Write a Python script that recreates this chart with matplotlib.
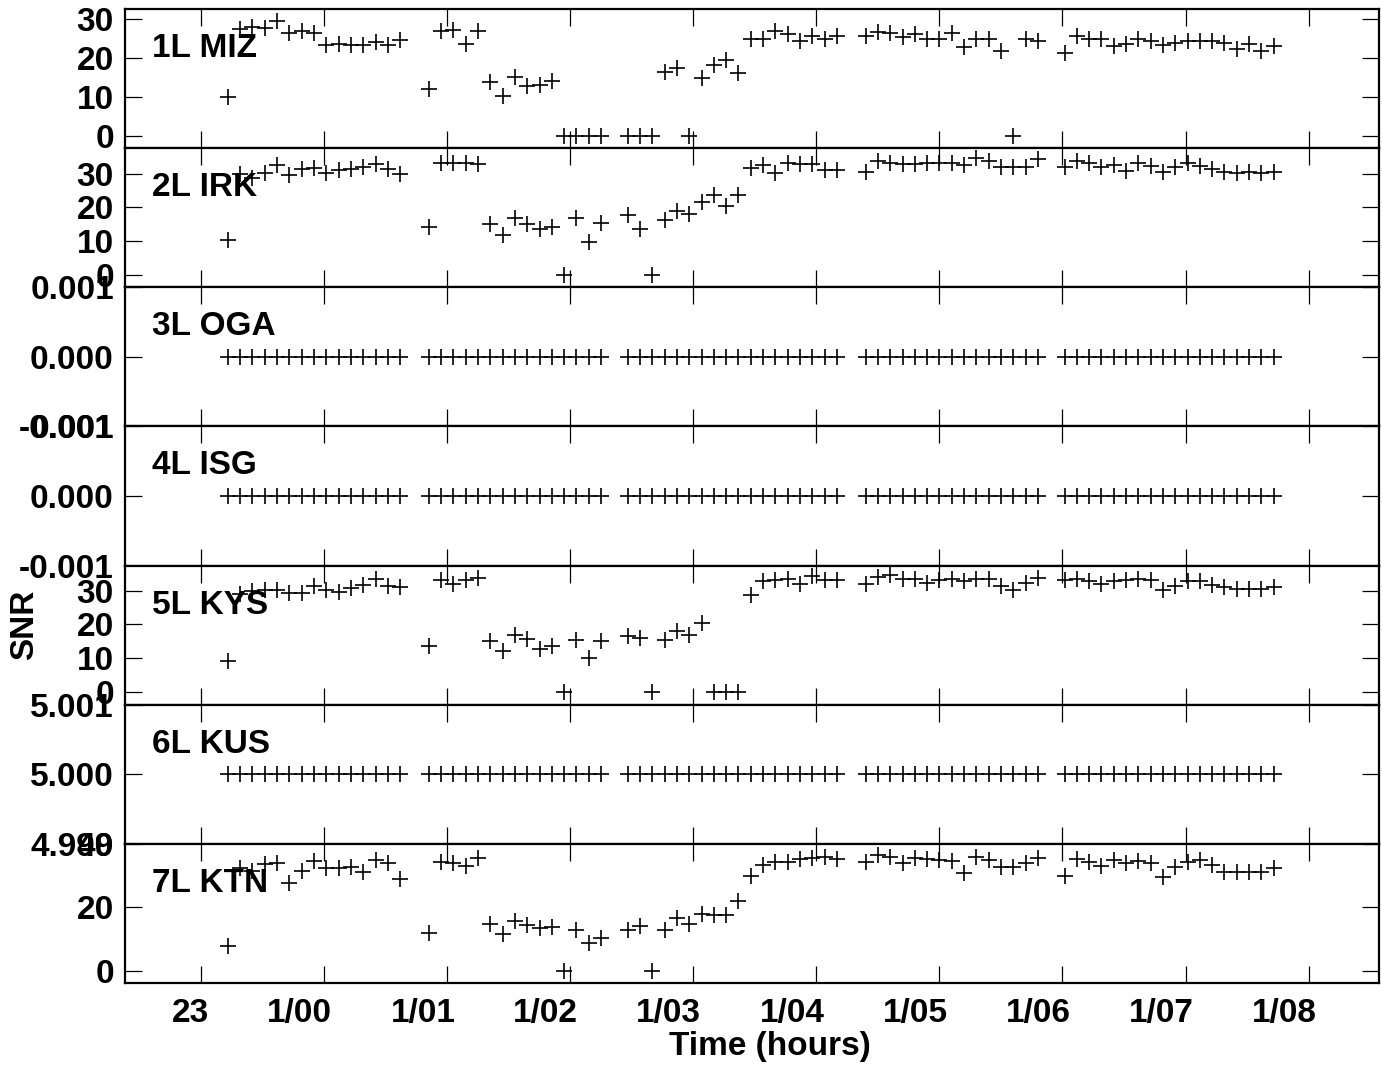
import matplotlib
matplotlib.use('Agg')
from matplotlib import pyplot as plt
from matplotlib.ticker import FormatStrFormatter
from matplotlib.transforms import ScaledTranslation

# observation times (UT), five sessions sampled every 6 minutes
times = [
    '23:13', '23:19', '23:25', '23:31', '23:37', '23:43', '23:49', '23:55',
    '00:01', '00:07', '00:13', '00:19', '00:25', '00:31', '00:37',
    '00:51', '00:57', '01:03', '01:09', '01:15', '01:21', '01:27', '01:33',
    '01:39', '01:45', '01:51', '01:57', '02:03', '02:09', '02:15',
    '02:28', '02:34', '02:40', '02:46', '02:52', '02:58', '03:04', '03:10', '03:16',
    '03:22', '03:28', '03:34', '03:40', '03:46', '03:52', '03:58', '04:04', '04:10',
    '04:24', '04:30', '04:36', '04:42', '04:48', '04:54', '05:00', '05:06',
    '05:12', '05:18', '05:24', '05:30', '05:36', '05:42', '05:48',
    '06:01', '06:07', '06:13', '06:19', '06:25', '06:31', '06:37', '06:43', '06:49',
    '06:55', '07:01', '07:07', '07:13', '07:19', '07:25', '07:31', '07:37', '07:43',
]

miz = [10.2, 27.5, 28.0, 27.9, 29.7, 26.6, 27.0, 26.5, 23.5, 23.7, 23.5, 23.5, 24.3, 23.5, 24.8,
       12.1, 27.0, 27.2, 23.6, 27.0, 14.0, 10.3, 15.3, 13.0, 13.3, 14.2, 0, 0, 0, 0,
       0, 0, 0, 16.4, 17.5, 0, 14.9, 18.3, 19.7, 16.2, 24.9, 24.9, 27.0, 26.3, 24.4, 25.7, 25.1, 25.7,
       25.7, 26.9, 26.6, 25.5, 26.3, 25.1, 25.1, 26.6, 22.9, 24.9, 25.1, 22.0, 0, 24.9, 24.6,
       21.4, 25.7, 25.1, 25.1, 23.1, 23.6, 25.1, 24.4, 23.4, 24.0, 24.6, 24.6, 24.4, 24.0, 22.3, 23.6, 22.0, 23.1]

irk = [10.3, 29.9, 28.9, 30.4, 32.6, 29.6, 31.4, 31.9, 30.4, 31.1, 31.6, 32.2, 32.9, 31.4, 30.1,
       14.2, 33.3, 33.3, 33.3, 32.9, 15.1, 11.9, 16.8, 15.1, 13.7, 14.2, 0, 16.8, 9.7, 15.4,
       17.8, 13.7, 0, 16.3, 18.8, 18.0, 21.6, 23.8, 20.4, 23.6, 31.7, 32.7, 30.3, 33.3, 33.0, 33.0, 31.3, 31.3,
       30.7, 34.0, 33.3, 33.0, 33.0, 33.3, 33.3, 33.3, 32.7, 34.7, 34.0, 32.0, 32.0, 32.0, 34.3,
       32.0, 34.0, 33.3, 32.0, 32.7, 31.0, 33.3, 32.3, 30.5, 32.0, 33.3, 32.3, 31.5, 30.5, 30.3, 30.7, 30.3, 30.7]

kys = [9.2, 29.0, 30.0, 30.3, 30.3, 29.3, 29.3, 31.3, 30.3, 29.7, 30.7, 31.5, 33.3, 31.3, 31.0,
       13.7, 33.0, 32.0, 33.0, 33.7, 15.1, 12.2, 16.8, 15.6, 12.7, 13.7, 0, 15.4, 9.9, 15.1,
       16.6, 15.8, 0, 15.4, 18.1, 16.8, 20.4, 0, 0, 0, 28.7, 32.7, 33.0, 33.3, 32.0, 34.3, 33.0, 33.0,
       32.0, 34.0, 34.7, 33.3, 33.3, 32.3, 33.0, 33.3, 32.7, 33.3, 33.3, 31.3, 30.3, 32.3, 33.7,
       33.0, 33.3, 32.7, 32.0, 32.7, 33.0, 33.3, 33.0, 30.3, 31.3, 32.7, 32.7, 31.7, 31.0, 30.5, 30.5, 30.5, 31.0]

ktn = [7.7, 32.5, 31.5, 33.5, 33.9, 27.8, 31.3, 34.7, 32.4, 32.4, 32.6, 31.0, 34.9, 33.9, 28.9,
       12.0, 34.2, 33.9, 33.1, 35.6, 14.8, 11.6, 15.7, 14.6, 13.5, 13.8, 0, 13.0, 8.8, 10.2,
       13.0, 14.1, 0, 13.0, 16.5, 14.8, 17.8, 17.6, 17.6, 22.0, 29.9, 33.4, 34.2, 34.2, 35.2, 35.6, 36.0, 35.2,
       34.2, 36.6, 36.0, 33.9, 35.6, 35.2, 34.9, 34.5, 30.7, 36.0, 34.9, 32.8, 32.6, 33.9, 35.6,
       29.9, 35.2, 34.2, 33.1, 34.9, 33.9, 34.7, 33.9, 29.4, 32.8, 34.2, 34.9, 33.4, 31.0, 31.0, 31.0, 31.0, 32.4]

# stations without signal: constant values
oga = [0.0] * len(times)
isg = [0.0] * len(times)
kus = [5.0] * len(times)

stations = ['1L MIZ', '2L IRK', '3L OGA', '4L ISG', '5L KYS', '6L KUS', '7L KTN']
series = [miz, irk, oga, isg, kys, kus, ktn]
ylims = [(-3.0, 32.7), (-3.8, 37.7), (-0.001, 0.001), (-0.001, 0.001),
         (-3.8, 37.4), (4.999, 5.001), (-3.8, 40.0)]
yticks = [[0, 10, 20, 30], [0, 10, 20, 30], [-0.001, 0.0, 0.001], [-0.001, 0.0, 0.001],
          [0, 10, 20, 30], [4.999, 5.0, 5.001], [0, 20, 40]]

hour_ticks = [-1, 0, 1, 2, 3, 4, 5, 6, 7, 8]
hour_labels = ['23', '1/00', '1/01', '1/02', '1/03', '1/04', '1/05', '1/06', '1/07', '1/08']


def to_hours(s):
    hh, mm = s.split(':')
    h = int(hh) + int(mm) / 60.0
    if h >= 12:
        h -= 24
    return h


x = [to_hours(t) for t in times]

plt.rcParams['font.family'] = ['Liberation Sans', 'DejaVu Sans']
plt.rcParams['font.weight'] = 'bold'
plt.rcParams['font.size'] = 24

fig, axes = plt.subplots(7, 1, sharex=True, figsize=(13.82, 10.66), dpi=100)
fig.subplots_adjust(left=0.0904, right=0.9976, top=0.9916, bottom=0.0779, hspace=0)

for i, ax in enumerate(axes):
    ax.plot(x, series[i], linestyle='none', marker='+', color='black',
            markersize=11, markeredgewidth=1.2)
    ax.set_xlim(-1.62, 8.57)
    ax.set_ylim(ylims[i])
    ax.set_yticks(yticks[i])
    if i in (2, 3, 5):
        ax.yaxis.set_major_formatter(FormatStrFormatter('%.3f'))
    else:
        ax.yaxis.set_major_formatter(FormatStrFormatter('%d'))
    ax.text(0.0215, 0.655, stations[i], transform=ax.transAxes,
            fontsize=24, fontweight='bold', va='baseline', ha='left')
    ax.tick_params(axis='both', direction='in', top=True, right=True,
                   length=12.5, width=0.9)
    ax.tick_params(axis='y', pad=8)
    for sp in ax.spines.values():
        sp.set_linewidth(1.6)

ax = axes[-1]
ax.set_xticks(hour_ticks)
ax.set_xticklabels(hour_labels)
ax.tick_params(axis='x', pad=11)
shift = ScaledTranslation(8 / 100, 0, fig.dpi_scale_trans)
for lab in ax.get_xticklabels():
    lab.set_ha('right')
    lab.set_transform(lab.get_transform() + shift)

fig.text(770 / 1382, 1 - 1046 / 1066, 'Time (hours)', ha='center', va='center',
         fontsize=24, fontweight='bold')
fig.text(25 / 1382, 1 - 625 / 1066, 'SNR', ha='center', va='center', rotation=90,
         fontsize=24, fontweight='bold')

plt.savefig('out.png', dpi=100)
